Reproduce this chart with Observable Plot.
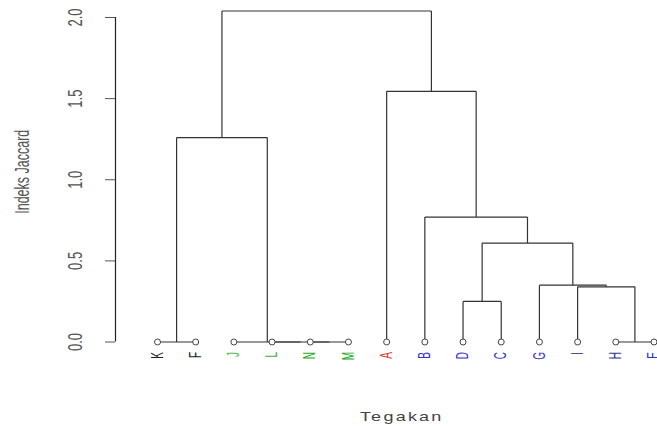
<!DOCTYPE html>
<html><head><meta charset="utf-8">
<script src="https://cdn.jsdelivr.net/npm/d3@7"></script>
<script src="https://cdn.jsdelivr.net/npm/@observablehq/plot@0.6"></script>
<style>html,body{margin:0;padding:0;background:#fff}svg{display:block}</style>
</head><body><div id="chart"></div>
<script>
// Leaves (left to right) and label colours
const leaves = ["K","F","J","L","N","M","A","B","D","C","G","I","H","E"];
const leafColors = ["#222222","#222222","#55bb55","#44aa44","#22aa22","#22aa22","#dd3333","#3333cc","#3333cc","#3333cc","#3333cc","#22226a","#333399","#3333cc"];
// Merges (hclust style): left, right (leaf label or "m"+earlier merge number), height
const mergeLeft   = ["N","L","J","K","H","D","I","G","m6","B","m4","A","m11"];
const mergeRight  = ["M","m1","m2","F","E","C","m5","m7","m8","m9","m3","m10","m12"];
const mergeHeight = [0, 0, 0, 0, 0, 0.25, 0.34, 0.35, 0.61, 0.77, 1.26, 1.545, 2.04];
const yTicks = [0, 0.5, 1, 1.5, 2];
const xTitle = "Tegakan";
const yTitle = "Indeks Jaccard";

// Build dendrogram geometry (in data units) from the merges
const nodePos = {}, nodeH = {};
leaves.forEach((n, i) => { nodePos[n] = i; nodeH[n] = 0; });
const segs = [];
mergeLeft.forEach((l, k) => {
  const r = mergeRight[k], h = mergeHeight[k], id = "m" + (k + 1);
  const xl = nodePos[l], xr = nodePos[r];
  segs.push({x1: xl, y1: h, x2: xr, y2: h});
  if (nodeH[l] < h) segs.push({x1: xl, y1: nodeH[l], x2: xl, y2: h});
  if (nodeH[r] < h) segs.push({x1: xr, y1: nodeH[r], x2: xr, y2: h});
  nodePos[id] = (xl + xr) / 2; nodeH[id] = h;
});
const leafData = leaves.map((name, i) => ({name, i, color: leafColors[i]}));

const plot = Plot.plot({
  width: 657, height: 427,
  marginLeft: 115, marginRight: 3.5, marginTop: 17, marginBottom: 85.5,
  style: {fontFamily: "'Liberation Sans', Arial, sans-serif", background: "#fff", overflow: "visible"},
  x: {domain: [0, 13], insetLeft: 42, axis: null},
  y: {domain: [0, 2]},
  marks: [
    Plot.link(segs, {x1: "x1", y1: "y1", x2: "x2", y2: "y2", stroke: "#333", strokeWidth: 1.2}),
    Plot.dot(leafData, {x: "i", y: 0, r: 3, stroke: "#444", fill: "white", strokeWidth: 1}),
    Plot.text(leafData, {x: "i", y: 0, text: "name", fill: "color", rotate: -90, textAnchor: "end", lineAnchor: "middle", dy: 10, fontSize: 10}),
    Plot.axisY({ticks: yTicks, tickFormat: d3.format(".1f"), tickSize: 10, tickRotate: -90, lineAnchor: "middle", tickPadding: 30, fontSize: 13, label: null, color: "#555"}),
    Plot.ruleX([0], {y1: 0, y2: 2, dx: -42, stroke: "#222", strokeWidth: 1.2}),
    Plot.text([yTitle], {frameAnchor: "left", textAnchor: "middle", lineAnchor: "middle", rotate: -90, dx: -93, dy: -8, fontSize: 12.5, fill: "#555"}),
    Plot.text([xTitle], {frameAnchor: "bottom", textAnchor: "middle", lineAnchor: "middle", dx: 17, dy: 75, fontSize: 12, fill: "#444"})
  ]
});

// Mimic the horizontally stretched look of the reference's text
d3.select(plot).selectAll("text").each(function() {
  const t = this.getAttribute("transform") || "";
  if (t.includes("rotate(-90)")) this.setAttribute("transform", t + " scale(1,1.6)");
  else if (this.textContent === xTitle) {
    this.setAttribute("transform", t + " scale(1.5,1)");
    this.setAttribute("letter-spacing", "1.5");
  }
});
document.getElementById("chart").appendChild(plot);
</script>
</body></html>
